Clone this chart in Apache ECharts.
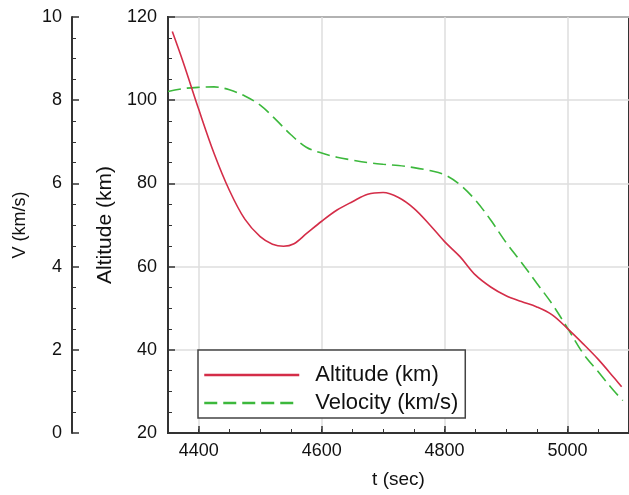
<!DOCTYPE html>
<html>
<head>
<meta charset="utf-8">
<script src="https://cdn.jsdelivr.net/npm/echarts@6/dist/echarts.min.js"></script>
<style>html,body{margin:0;padding:0;background:#fff;}#chart{width:629px;height:495px;}</style>
</head>
<body>
<div id="chart"></div>
<script>
// time (sec) for altitude series
var timeAlt = [4357, 4375, 4400, 4425, 4450, 4475, 4500, 4520, 4538, 4555, 4575, 4600, 4625, 4650, 4675, 4700, 4725, 4750, 4775, 4800, 4825, 4850, 4875, 4900, 4925, 4950, 4975, 5000, 5025, 5050, 5075, 5088];
// altitude (km)
var altitude = [116.5, 109, 97.8, 87.2, 78.3, 71.4, 67.2, 65.4, 64.9, 65.5, 67.9, 70.9, 73.6, 75.6, 77.4, 77.8, 76.6, 74, 70.2, 66, 62.4, 58, 55.1, 53, 51.6, 50.3, 48.4, 45.1, 41.5, 37.7, 33.4, 31.1];
// time (sec) for velocity series
var timeVel = [4350, 4375, 4400, 4425, 4450, 4475, 4500, 4525, 4550, 4575, 4600, 4625, 4650, 4675, 4700, 4725, 4750, 4775, 4800, 4825, 4850, 4875, 4900, 4925, 4950, 4975, 5000, 5025, 5050, 5075, 5090];
// velocity (km/s)
var velocity = [8.21, 8.28, 8.31, 8.32, 8.25, 8.1, 7.88, 7.54, 7.17, 6.87, 6.73, 6.63, 6.56, 6.5, 6.46, 6.43, 6.38, 6.31, 6.21, 5.97, 5.6, 5.12, 4.58, 4.1, 3.6, 3.1, 2.52, 1.92, 1.47, 1.02, 0.78];
// x tick labels
var xMajorTicks = [4400, 4600, 4800, 5000];

var altData = timeAlt.map(function (t, i) { return [t, altitude[i]]; });
var velData = timeVel.map(function (t, i) { return [t, velocity[i]]; });

var FONT = "'Liberation Sans', Arial, sans-serif";
var AX = '#333';
var plain = function (v) { return String(v); };
var chart = echarts.init(document.getElementById('chart'), null, {renderer: 'canvas'});
chart.setOption({
  animation: false,
  backgroundColor: '#fff',
  textStyle: {fontFamily: FONT},
  grid: {left: 168, top: 17, right: -6, bottom: 62, show: true, borderColor: AX, borderWidth: 2, backgroundColor: 'transparent'},
  legend: {
    orient: 'vertical', left: 198, top: 350,
    padding: [14, 7, 4, 5], itemGap: 6,
    itemWidth: 95, itemHeight: 14,
    backgroundColor: '#fff', borderColor: '#444', borderWidth: 1.5,
    textStyle: {fontSize: 22, lineHeight: 22, color: '#111', fontFamily: FONT, padding: [0, 0, 0, 11]},
    lineStyle: {width: 2.5},
    itemStyle: {opacity: 0},
    data: ['Altitude (km)', 'Velocity (km/s)']
  },
  xAxis: [{
    type: 'value', min: 4350, max: 5100,
    name: 't (sec)', nameLocation: 'middle', nameGap: 37,
    nameTextStyle: {fontSize: 19, color: '#111', fontFamily: FONT},
    axisLine: {show: true, lineStyle: {color: AX, width: 2}},
    axisTick: {show: true, inside: true, length: 7, customValues: xMajorTicks, lineStyle: {color: AX, width: 1.5}},
    axisLabel: {show: true, customValues: xMajorTicks, formatter: plain, margin: 9, fontSize: 18, color: '#111', fontFamily: FONT},
    splitLine: {show: true, lineStyle: {color: '#dedede', width: 1.5}}
  }, {
    type: 'value', min: 4350, max: 5100, interval: 50, position: 'bottom', gridIndex: 0,
    axisLine: {show: false},
    axisTick: {show: true, inside: true, length: 4, lineStyle: {color: AX, width: 1}},
    axisLabel: {show: false},
    splitLine: {show: false}
  }],
  yAxis: [{
    type: 'value', min: 20, max: 120, interval: 20, position: 'left',
    name: 'Altitude (km)', nameLocation: 'middle', nameGap: 51, nameRotate: 90,
    nameTextStyle: {fontSize: 21, color: '#111', fontFamily: FONT},
    axisLine: {show: true, lineStyle: {color: AX, width: 2}},
    axisTick: {show: true, inside: true, length: 7, lineStyle: {color: AX, width: 1.5}},
    minorTick: {show: true, splitNumber: 4, length: 4, lineStyle: {color: AX, width: 1}},
    axisLabel: {margin: 11, fontSize: 18, color: '#111', fontFamily: FONT, formatter: plain},
    splitLine: {show: true, lineStyle: {color: '#dedede', width: 1.5}}
  }, {
    type: 'value', min: 0, max: 10, interval: 2, position: 'left', offset: 96,
    name: 'V (km/s)', nameLocation: 'middle', nameGap: 43, nameRotate: 90,
    nameTextStyle: {fontSize: 18, color: '#111', fontFamily: FONT},
    axisLine: {show: true, lineStyle: {color: AX, width: 2}},
    axisTick: {show: true, inside: true, length: 7, lineStyle: {color: AX, width: 1.5}},
    minorTick: {show: true, splitNumber: 4, length: 4, lineStyle: {color: AX, width: 1}},
    axisLabel: {margin: 10, fontSize: 18, color: '#111', fontFamily: FONT, formatter: plain},
    splitLine: {show: false}
  }],
  series: [{
    name: 'Altitude (km)', type: 'line', xAxisIndex: 0, yAxisIndex: 0,
    data: altData, smooth: 0.35, symbol: 'none', showSymbol: false,
    lineStyle: {color: '#d42d48', width: 1.6},
    itemStyle: {color: '#d42d48'}, z: 3
  }, {
    name: 'Velocity (km/s)', type: 'line', xAxisIndex: 0, yAxisIndex: 1,
    data: velData, smooth: 0.35, symbol: 'none', showSymbol: false,
    lineStyle: {color: '#3cb83c', width: 1.6, type: [13, 6]},
    itemStyle: {color: '#3cb83c'}, z: 2
  }]
});
</script>
</body>
</html>
